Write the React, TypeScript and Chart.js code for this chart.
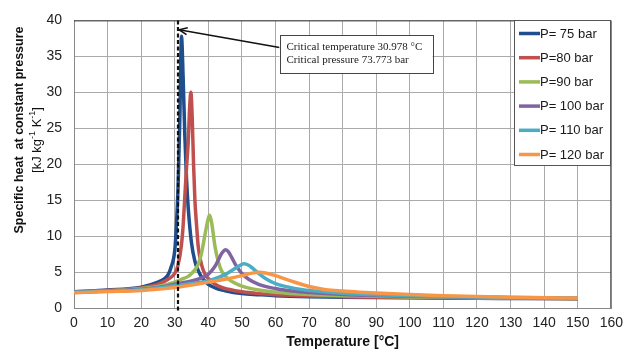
import React, { useEffect, useRef } from "react";
import { Chart, registerables } from "chart.js";

Chart.register(...registerables);

// ---------- data ----------
const seriesLabels = ["P= 75 bar", "P=80 bar", "P=90 bar", "P= 100 bar", "P= 110 bar", "P= 120 bar"];
const seriesColors = ["#1F4E8C", "#C0504D", "#9BBB59", "#8064A2", "#4BACC6", "#F79646"];

const t75 = [0, 10, 20, 25, 27, 28, 29, 30, 30.5, 31, 31.5, 32, 32.5, 33, 33.5, 34, 35, 36, 37, 38, 40, 42, 45, 50, 55, 60, 70, 80, 90, 100, 110, 120, 130, 140, 150];
const cp75 = [2.25, 2.5, 2.9, 3.6, 4.1, 4.6, 5.8, 8.0, 11.5, 17.0, 26, 37.8, 32, 24, 18, 14, 9.0, 6.5, 5.2, 4.3, 3.3, 2.8, 2.4, 2.0, 1.85, 1.72, 1.58, 1.5, 1.45, 1.41, 1.38, 1.35, 1.33, 1.31, 1.29];

const t80 = [0, 10, 20, 25, 28, 30, 31, 32, 32.5, 33, 33.5, 34, 34.5, 34.8, 35.2, 35.6, 36, 36.5, 37, 38, 39, 40, 42, 44, 46, 50, 55, 60, 70, 80, 90, 100, 110, 120, 130, 140, 150];
const cp80 = [2.22, 2.45, 2.8, 3.3, 4.0, 4.8, 6.0, 8.8, 11.5, 15.5, 19.5, 23, 28.5, 30, 26.5, 20, 15, 11.5, 8.5, 6.0, 4.7, 4.1, 3.3, 2.85, 2.6, 2.25, 2.0, 1.85, 1.68, 1.58, 1.51, 1.46, 1.42, 1.38, 1.35, 1.32, 1.3];

const t90 = [0, 10, 20, 25, 30, 32, 34, 35, 36, 37, 38, 39, 40, 40.4, 41, 42, 43, 44, 45, 46, 48, 50, 55, 60, 70, 80, 90, 100, 110, 120, 130, 140, 150];
const cp90 = [2.2, 2.4, 2.7, 3.0, 3.6, 4.0, 4.4, 4.8, 5.3, 6.1, 7.7, 10.2, 12.5, 12.9, 11.8, 8.5, 6.4, 5.1, 4.5, 4.0, 3.45, 3.05, 2.5, 2.2, 1.88, 1.72, 1.62, 1.54, 1.48, 1.43, 1.39, 1.35, 1.32];

const t100 = [0, 10, 20, 25, 30, 35, 38, 40, 42, 43, 44, 45.2, 46, 47, 48, 49, 50, 52, 55, 60, 65, 70, 80, 90, 100, 110, 120, 130, 140, 150];
const cp100 = [2.18, 2.38, 2.6, 2.85, 3.3, 3.75, 4.2, 4.7, 5.8, 6.7, 7.6, 8.1, 7.8, 7.0, 6.1, 5.4, 4.8, 4.0, 3.3, 2.7, 2.35, 2.15, 1.88, 1.73, 1.63, 1.55, 1.49, 1.44, 1.39, 1.35];

const t110 = [0, 10, 20, 30, 35, 40, 43, 45, 47, 49, 50.6, 52, 53, 55, 57, 60, 65, 70, 80, 90, 100, 110, 120, 130, 140, 150];
const cp110 = [2.15, 2.33, 2.55, 3.1, 3.4, 3.8, 4.25, 4.65, 5.2, 5.8, 6.15, 5.95, 5.6, 4.8, 4.1, 3.4, 2.8, 2.45, 2.05, 1.83, 1.7, 1.6, 1.52, 1.46, 1.41, 1.37];

const t120 = [0, 10, 20, 30, 40, 45, 50, 53, 55.2, 57, 60, 65, 70, 75, 80, 85, 90, 100, 110, 120, 130, 140, 150];
const cp120 = [2.12, 2.28, 2.45, 2.85, 3.6, 4.0, 4.5, 4.85, 4.97, 4.87, 4.5, 3.7, 3.0, 2.55, 2.35, 2.2, 2.08, 1.88, 1.72, 1.6, 1.51, 1.44, 1.38];

const seriesTemps = [t75, t80, t90, t100, t110, t120];
const seriesValues = [cp75, cp80, cp90, cp100, cp110, cp120];

const xMin = 0, xMax = 160, xStep = 10;
const yMin = 0, yMax = 40, yStep = 5;

const criticalTemperature = 30.978;
const annotationLines = ["Critical temperature 30.978 °C", "Critical pressure 73.773 bar"];
const xTitle = "Temperature [°C]";
const yTitleLine1 = "Specific heat  at constant pressure";

// ---------- plugins ----------
const overlayPlugin = {
  id: "overlay",
  afterDatasetsDraw(chart: any) {
    const { ctx, chartArea: a, scales } = chart;
    const x = scales.x, y = scales.y;
    ctx.save();

    // top/right frame
    ctx.strokeStyle = "#3a3a3a";
    ctx.lineWidth = 1;
    ctx.beginPath();
    ctx.moveTo(a.left, a.top + 0.5);
    ctx.lineTo(a.right - 0.5, a.top + 0.5);
    ctx.lineTo(a.right - 0.5, a.bottom);
    ctx.stroke();

    // critical temperature dashed line
    const cx = Math.round(x.getPixelForValue(criticalTemperature));
    ctx.strokeStyle = "#111";
    ctx.lineWidth = 2.2;
    ctx.setLineDash([4, 2.5]);
    ctx.beginPath();
    ctx.moveTo(cx, a.top);
    ctx.lineTo(cx, a.bottom + 4);
    ctx.stroke();
    ctx.setLineDash([]);

    // annotation box
    const bx = x.getPixelForValue(61.2);
    const by = y.getPixelForValue(37.9);
    const bw = 153, bh = 38;
    // arrow
    const tipX = cx + 1, tipY = y.getPixelForValue(38.7);
    const sx = bx, sy = by + 12;
    ctx.strokeStyle = "#111";
    ctx.lineWidth = 1.5;
    ctx.beginPath();
    ctx.moveTo(sx, sy);
    ctx.lineTo(tipX, tipY);
    ctx.stroke();
    const ang = Math.atan2(sy - tipY, sx - tipX);
    const hl = 9, spread = 0.4;
    ctx.beginPath();
    ctx.moveTo(tipX + hl * Math.cos(ang - spread), tipY + hl * Math.sin(ang - spread));
    ctx.lineTo(tipX, tipY);
    ctx.lineTo(tipX + hl * Math.cos(ang + spread), tipY + hl * Math.sin(ang + spread));
    ctx.stroke();

    ctx.fillStyle = "#fff";
    ctx.fillRect(bx, by, bw, bh);
    ctx.strokeStyle = "#444";
    ctx.lineWidth = 1;
    ctx.strokeRect(Math.round(bx) + 0.5, Math.round(by) + 0.5, bw, bh);
    ctx.fillStyle = "#222";
    ctx.font = "11px 'Liberation Serif', serif";
    ctx.textBaseline = "middle";
    ctx.textAlign = "left";
    ctx.fillText(annotationLines[0], bx + 7, by + 11.5);
    ctx.fillText(annotationLines[1], bx + 7, by + 25);

    // legend
    const lx = 514, ly = 20, lw = 96, lh = 145;
    ctx.fillStyle = "#fff";
    ctx.fillRect(lx, ly, lw, lh);
    ctx.strokeStyle = "#555";
    ctx.strokeRect(lx + 0.5, ly + 0.5, lw, lh);
    ctx.font = "13px 'Liberation Sans', Arial, sans-serif";
    ctx.fillStyle = "#1a1a1a";
    seriesLabels.forEach((lab, i) => {
      const cy = 33.5 + i * 24.2;
      ctx.strokeStyle = seriesColors[i];
      ctx.lineWidth = 3.5;
      ctx.beginPath();
      ctx.moveTo(519, cy);
      ctx.lineTo(540, cy);
      ctx.stroke();
      ctx.fillText(lab, 540, cy + 0.5);
    });

    // axis titles
    ctx.fillStyle = "#111";
    ctx.font = "bold 14px 'Liberation Sans', Arial, sans-serif";
    ctx.textAlign = "center";
    ctx.fillText(xTitle, (x.getPixelForValue(xMin) + x.getPixelForValue(xMax)) / 2, 342);

    ctx.save();
    ctx.translate(20, 130);
    ctx.rotate(-Math.PI / 2);
    ctx.font = "bold 12.5px 'Liberation Sans', Arial, sans-serif";
    ctx.fillText(yTitleLine1, 0, 0);
    ctx.restore();

    // second line with superscripts
    ctx.save();
    ctx.translate(37, 140);
    ctx.rotate(-Math.PI / 2);
    const parts: [string, boolean][] = [["[kJ kg", false], ["-1", true], [" K", false], ["-1", true], ["]", false]];
    const mainFont = "13px 'Liberation Sans', Arial, sans-serif";
    const supFont = "9px 'Liberation Sans', Arial, sans-serif";
    let total = 0;
    parts.forEach(([s, sup]) => { ctx.font = sup ? supFont : mainFont; total += ctx.measureText(s).width; });
    let px = -total / 2;
    ctx.textAlign = "left";
    parts.forEach(([s, sup]) => {
      ctx.font = sup ? supFont : mainFont;
      ctx.fillText(s, px, sup ? -4 : 0);
      px += ctx.measureText(s).width;
    });
    ctx.restore();

    ctx.restore();
  },
};

export default function App() {
  const ref = useRef<HTMLCanvasElement | null>(null);
  useEffect(() => {
    if (!ref.current) return;
    const datasets = seriesLabels.map((label, i) => ({
      label,
      data: seriesTemps[i].map((t, k) => ({ x: t, y: seriesValues[i][k] })),
      borderColor: seriesColors[i],
      backgroundColor: seriesColors[i],
      borderWidth: 3.5,
      pointRadius: 0,
      fill: false,
      cubicInterpolationMode: "monotone" as const,
      order: seriesLabels.length - i,
    }));
    const chart = new Chart(ref.current, {
      type: "line",
      data: { datasets },
      options: {
        animation: false,
        responsive: false,
        layout: { padding: { top: 13, right: 13, left: 0, bottom: 0 } },
        plugins: { legend: { display: false }, tooltip: { enabled: false } },
        scales: {
          x: {
            type: "linear",
            min: xMin,
            max: xMax,
            afterFit: (s: any) => { s.height = 46; },
            ticks: { stepSize: xStep, padding: 7, color: "#222", font: { size: 14, family: "'Liberation Sans', Arial, sans-serif" } },
            grid: { color: "#aaaaaa", drawTicks: false },
            border: { color: "#888" },
          },
          y: {
            min: yMin,
            max: yMax,
            afterFit: (s: any) => { s.width = 74; },
            ticks: { stepSize: yStep, padding: 12, color: "#222", font: { size: 14, family: "'Liberation Sans', Arial, sans-serif" } },
            grid: { color: "#aaaaaa", drawTicks: false },
            border: { color: "#888" },
          },
        },
      },
      plugins: [overlayPlugin],
    });
    return () => chart.destroy();
  }, []);
  return (
    <div style={{ position: "absolute", left: 0, top: 0, width: 630, height: 354, background: "#fff" }}>
      <canvas ref={ref} width={630} height={354} />
    </div>
  );
}
